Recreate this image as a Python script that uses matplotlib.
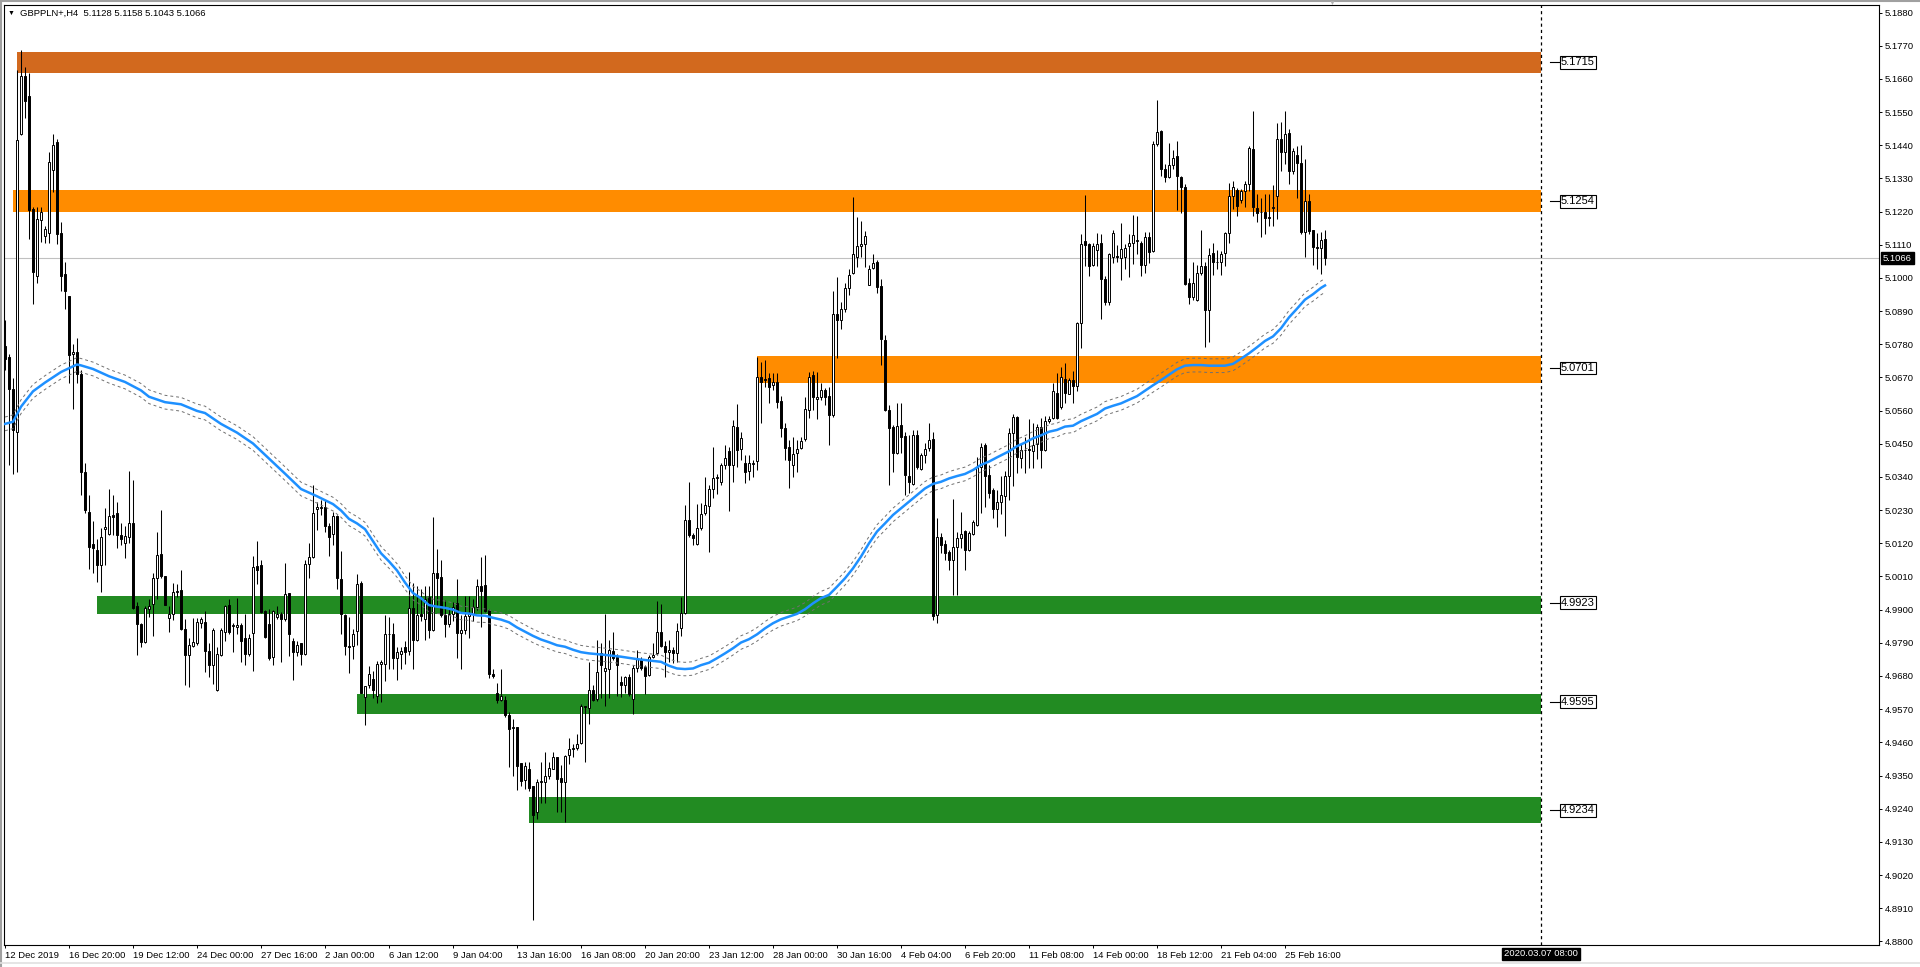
import numpy as np
import matplotlib
matplotlib.use("Agg")
import matplotlib.pyplot as plt
from matplotlib.patches import Rectangle
from matplotlib.lines import Line2D

plt.rcParams['font.family'] = ['Liberation Sans', 'DejaVu Sans']

# header
symbol = "GBPPLN+,H4"
last_ohlc = ["5.1128", "5.1158", "5.1043", "5.1066"]

# H4 candles, 12 Dec 2019 -> 27 Feb 2020
opens = [
    5.0775, 5.0739, 5.0631, 5.0488, 5.1476, 5.1668, 5.1602, 5.1228, 5.1005, 5.1192,
    5.1139, 5.1149, 5.1358, 5.1450, 5.1148, 5.1012, 5.0941, 5.0748, 5.0754, 5.0682,
    5.0357, 5.0225, 5.0118, 5.0099, 5.0049, 5.0167, 5.0152, 5.0213, 5.0219, 5.0149,
    5.0121, 5.0142, 5.0186, 4.9912, 4.9851, 4.9793, 4.9902, 4.9919, 5.0006, 5.0085,
    5.0013, 4.9873, 4.9884, 4.9960, 4.9966, 4.9836, 4.9750, 4.9779, 4.9790, 4.9855,
    4.9859, 4.9764, 4.9718, 4.9632, 4.9750, 4.9826, 4.9915, 4.9845, 4.9842, 4.9848,
    4.9805, 4.9754, 4.9822, 5.0046, 5.0049, 4.9894, 4.9851, 4.9744, 4.9877, 4.9884,
    4.9869, 4.9955, 4.9797, 4.9761, 4.9790, 4.9754, 5.0053, 5.0075, 5.0233, 5.0236,
    5.0239, 5.0178, 5.0152, 5.0210, 5.0003, 4.9881, 4.9781, 4.9778, 4.9830, 4.9987,
    4.9611, 4.9649, 4.9670, 4.9613, 4.9721, 4.9721, 4.9818, 4.9820, 4.9741, 4.9753,
    4.9775, 4.9764, 4.9904, 4.9799, 4.9885, 4.9869, 4.9942, 4.9832, 5.0020, 5.0007,
    4.9881, 4.9853, 4.9887, 4.9921, 4.9822, 4.9833, 4.9878, 4.9887, 4.9910, 4.9978,
    4.9981, 4.9898, 4.9687, 4.9622, 4.9601, 4.9599, 4.9550, 4.9508, 4.9510, 4.9390,
    4.9336, 4.9373, 4.9314, 4.9230, 4.9330, 4.9327, 4.9348, 4.9373, 4.9410, 4.9341,
    4.9327, 4.9419, 4.9439, 4.9442, 4.9459, 4.9579, 4.9573, 4.9632, 4.9604, 4.9755,
    4.9695, 4.9702, 4.9763, 4.9744, 4.9659, 4.9650, 4.9676, 4.9604, 4.9707, 4.9736,
    4.9710, 4.9684, 4.9744, 4.9756, 4.9827, 4.9778, 4.9761, 4.9766, 4.9757, 4.9838,
    4.9888, 5.0197, 5.0148, 5.0118, 5.0170, 5.0219, 5.0244, 5.0299, 5.0336, 5.0324,
    5.0380, 5.0426, 5.0380, 5.0507, 5.0432, 5.0387, 5.0361, 5.0383, 5.0394, 5.0672,
    5.0664, 5.0667, 5.0645, 5.0656, 5.0593, 5.0504, 5.0438, 5.0380, 5.0418, 5.0435,
    5.0465, 5.0562, 5.0678, 5.0597, 5.0606, 5.0630, 5.0608, 5.0545, 5.0882, 5.0860,
    5.0896, 5.0965, 5.1017, 5.1070, 5.1106, 5.1112, 5.0978, 5.1032, 5.1054, 5.0973,
    5.0794, 5.0562, 5.0507, 5.0420, 5.0512, 5.0476, 5.0343, 5.0317, 5.0479, 5.0365,
    5.0413, 5.0435, 5.0465, 4.9882, 5.0140, 5.0118, 5.0092, 5.0065, 5.0109, 5.0136,
    5.0162, 5.0098, 5.0151, 5.0181, 5.0372, 5.0446, 5.0346, 5.0297, 5.0233, 5.0256,
    5.0277, 5.0342, 5.0486, 5.0540, 5.0403, 5.0428, 5.0433, 5.0427, 5.0450, 5.0505,
    5.0430, 5.0525, 5.0537, 5.0620, 5.0573, 5.0664, 5.0616, 5.0661, 5.0643, 5.0851,
    5.1121, 5.1111, 5.1042, 5.1093, 5.1117, 5.0995, 5.0919, 5.1070, 5.1072, 5.1066,
    5.1070, 5.1105, 5.1117, 5.1121, 5.1117, 5.1043, 5.1137, 5.1088, 5.1443, 5.1488,
    5.1362, 5.1334, 5.1376, 5.1405, 5.1334, 5.1303, 5.0983, 5.0936, 5.0928, 5.1017,
    5.1040, 5.0892, 5.1082, 5.1054, 5.1052, 5.1082, 5.1149, 5.1271, 5.1291, 5.1259,
    5.1287, 5.1310, 5.1427, 5.1232, 5.1220, 5.1218, 5.1202, 5.1233, 5.1271, 5.1461,
    5.1417, 5.1481, 5.1354, 5.1407, 5.1381, 5.1153, 5.1254, 5.1159, 5.1102, 5.1099,
    5.1128]
highs = [
    5.0861, 5.0747, 5.0667, 5.1688, 5.1757, 5.1700, 5.1681, 5.1235, 5.1235, 5.1235,
    5.1171, 5.1418, 5.1476, 5.1461, 5.1185, 5.1053, 5.0941, 5.0782, 5.0800, 5.0696,
    5.0387, 5.0279, 5.0193, 5.0135, 5.0171, 5.0236, 5.0301, 5.0279, 5.0257, 5.0186,
    5.0178, 5.0361, 5.0329, 4.9927, 4.9855, 4.9912, 4.9934, 5.0020, 5.0159, 5.0229,
    5.0013, 4.9912, 4.9989, 4.9984, 5.0032, 4.9869, 4.9805, 4.9872, 4.9872, 4.9877,
    4.9894, 4.9790, 4.9840, 4.9776, 4.9840, 4.9915, 4.9934, 4.9855, 4.9938, 4.9855,
    4.9884, 4.9819, 5.0078, 5.0128, 5.0063, 4.9898, 4.9901, 4.9898, 4.9912, 4.9891,
    5.0056, 4.9955, 4.9805, 4.9797, 4.9790, 5.0063, 5.0121, 5.0315, 5.0257, 5.0265,
    5.0265, 5.0186, 5.0225, 5.0214, 5.0096, 4.9885, 4.9875, 4.9836, 5.0018, 4.9995,
    4.9647, 4.9713, 4.9698, 4.9730, 4.9733, 4.9881, 4.9875, 4.9855, 4.9775, 4.9775,
    4.9795, 5.0024, 4.9987, 4.9978, 4.9969, 4.9978, 4.9978, 5.0207, 5.0100, 5.0064,
    4.9933, 4.9910, 4.9927, 5.0001, 4.9881, 4.9944, 4.9944, 4.9935, 5.0001, 5.0075,
    5.0081, 4.9901, 4.9702, 4.9656, 4.9704, 4.9613, 4.9561, 4.9539, 4.9510, 4.9390,
    4.9396, 4.9396, 4.9316, 4.9339, 4.9396, 4.9428, 4.9396, 4.9428, 4.9413, 4.9385,
    4.9419, 4.9473, 4.9453, 4.9489, 4.9588, 4.9581, 4.9725, 4.9649, 4.9798, 4.9790,
    4.9887, 4.9798, 4.9827, 4.9752, 4.9681, 4.9681, 4.9687, 4.9716, 4.9767, 4.9744,
    4.9716, 4.9750, 4.9790, 4.9930, 4.9919, 4.9795, 4.9799, 4.9777, 4.9855, 4.9943,
    5.0247, 5.0324, 5.0153, 5.0249, 5.0252, 5.0339, 5.0313, 5.0440, 5.0350, 5.0385,
    5.0446, 5.0440, 5.0529, 5.0582, 5.0490, 5.0413, 5.0413, 5.0396, 5.0737, 5.0722,
    5.0728, 5.0684, 5.0684, 5.0684, 5.0608, 5.0518, 5.0462, 5.0473, 5.0462, 5.0473,
    5.0604, 5.0689, 5.0691, 5.0689, 5.0650, 5.0634, 5.0639, 5.0958, 5.1004, 5.0921,
    5.0982, 5.1028, 5.1269, 5.1203, 5.1190, 5.1156, 5.1043, 5.1079, 5.1059, 5.0998,
    5.0810, 5.0578, 5.0512, 5.0584, 5.0584, 5.0490, 5.0479, 5.0496, 5.0496, 5.0421,
    5.0454, 5.0520, 5.0490, 5.0203, 5.0153, 5.0131, 5.0098, 5.0266, 5.0159, 5.0225,
    5.0164, 5.0162, 5.0197, 5.0407, 5.0451, 5.0454, 5.0380, 5.0302, 5.0297, 5.0342,
    5.0359, 5.0502, 5.0549, 5.0543, 5.0448, 5.0472, 5.0531, 5.0519, 5.0517, 5.0537,
    5.0543, 5.0543, 5.0652, 5.0685, 5.0703, 5.0718, 5.0667, 5.0691, 5.0853, 5.1147,
    5.1275, 5.1117, 5.1117, 5.1149, 5.1147, 5.1007, 5.1082, 5.1159, 5.1109, 5.1182,
    5.1114, 5.1147, 5.1208, 5.1206, 5.1123, 5.1153, 5.1153, 5.1455, 5.1591, 5.1492,
    5.1378, 5.1449, 5.1425, 5.1455, 5.1339, 5.1310, 5.0999, 5.1052, 5.1043, 5.1159,
    5.1052, 5.1100, 5.1117, 5.1093, 5.1088, 5.1153, 5.1315, 5.1322, 5.1298, 5.1295,
    5.1322, 5.1437, 5.1552, 5.1279, 5.1265, 5.1277, 5.1279, 5.1307, 5.1514, 5.1516,
    5.1552, 5.1493, 5.1431, 5.1437, 5.1440, 5.1393, 5.1279, 5.1159, 5.1149, 5.1153,
    5.1158]
lows = [
    5.0696, 5.0380, 5.0351, 5.0358, 5.1473, 5.1530, 5.1128, 5.0912, 5.0984, 5.1120,
    5.1116, 5.1116, 5.1286, 5.1113, 5.0958, 5.0897, 5.0653, 5.0567, 5.0653, 5.0279,
    5.0222, 5.0035, 5.0020, 4.9991, 4.9960, 5.0049, 5.0149, 5.0149, 5.0106, 5.0113,
    5.0071, 5.0121, 4.9902, 4.9750, 4.9776, 4.9790, 4.9877, 4.9811, 4.9934, 5.0006,
    4.9915, 4.9826, 4.9865, 4.9941, 4.9833, 4.9649, 4.9643, 4.9776, 4.9783, 4.9840,
    4.9692, 4.9678, 4.9653, 4.9629, 4.9747, 4.9797, 4.9819, 4.9761, 4.9819, 4.9725,
    4.9718, 4.9747, 4.9696, 4.9984, 4.9888, 4.9805, 4.9733, 4.9718, 4.9869, 4.9725,
    4.9862, 4.9747, 4.9668, 4.9747, 4.9718, 4.9750, 5.0006, 5.0071, 5.0164, 5.0214,
    5.0157, 5.0078, 5.0113, 4.9970, 4.9818, 4.9748, 4.9690, 4.9738, 4.9784, 4.9622,
    4.9516, 4.9641, 4.9606, 4.9590, 4.9593, 4.9664, 4.9704, 4.9704, 4.9667, 4.9704,
    4.9721, 4.9748, 4.9702, 4.9796, 4.9864, 4.9801, 4.9807, 4.9828, 4.9910, 4.9875,
    4.9809, 4.9841, 4.9864, 4.9741, 4.9704, 4.9818, 4.9805, 4.9864, 4.9898, 4.9841,
    4.9893, 4.9672, 4.9672, 4.9592, 4.9596, 4.9544, 4.9379, 4.9350, 4.9302, 4.9316,
    4.9305, 4.9299, 4.8870, 4.9207, 4.9259, 4.9259, 4.9339, 4.9371, 4.9230, 4.9230,
    4.9196, 4.9387, 4.9410, 4.9436, 4.9453, 4.9396, 4.9522, 4.9596, 4.9596, 4.9607,
    4.9581, 4.9607, 4.9733, 4.9613, 4.9610, 4.9624, 4.9615, 4.9554, 4.9693, 4.9699,
    4.9619, 4.9681, 4.9739, 4.9750, 4.9775, 4.9678, 4.9728, 4.9724, 4.9728, 4.9811,
    4.9886, 5.0142, 5.0114, 5.0114, 5.0164, 5.0214, 5.0092, 5.0269, 5.0283, 5.0313,
    5.0365, 5.0228, 5.0324, 5.0374, 5.0396, 5.0319, 5.0330, 5.0341, 5.0363, 5.0518,
    5.0639, 5.0586, 5.0628, 5.0568, 5.0471, 5.0396, 5.0302, 5.0341, 5.0357, 5.0432,
    5.0460, 5.0534, 5.0562, 5.0531, 5.0595, 5.0579, 5.0446, 5.0540, 5.0733, 5.0829,
    5.0888, 5.0943, 5.1013, 5.1037, 5.1070, 5.1037, 5.0976, 5.1028, 5.0951, 5.0711,
    5.0560, 5.0313, 5.0357, 5.0416, 5.0418, 5.0280, 5.0286, 5.0313, 5.0365, 5.0363,
    5.0385, 5.0427, 4.9866, 4.9855, 5.0087, 5.0065, 5.0032, 4.9949, 4.9949, 5.0103,
    5.0032, 5.0096, 5.0148, 5.0177, 5.0219, 5.0241, 5.0269, 5.0203, 5.0173, 5.0217,
    5.0143, 5.0265, 5.0309, 5.0353, 5.0371, 5.0353, 5.0371, 5.0371, 5.0401, 5.0371,
    5.0425, 5.0519, 5.0533, 5.0531, 5.0567, 5.0584, 5.0614, 5.0584, 5.0626, 5.0766,
    5.1040, 5.1007, 5.1038, 5.1040, 5.0863, 5.0910, 5.0910, 5.1050, 5.1052, 5.0993,
    5.1028, 5.1002, 5.1046, 5.1078, 5.1007, 5.1016, 5.1050, 5.1085, 5.1437, 5.1339,
    5.1318, 5.1330, 5.1360, 5.1224, 5.1215, 5.0975, 5.0912, 5.0928, 5.0924, 5.1011,
    5.0770, 5.0786, 5.1011, 5.1028, 5.1011, 5.1040, 5.1117, 5.1230, 5.1206, 5.1247,
    5.1236, 5.1289, 5.1206, 5.1185, 5.1135, 5.1144, 5.1173, 5.1173, 5.1194, 5.1354,
    5.1378, 5.1313, 5.1346, 5.1265, 5.1144, 5.1070, 5.1144, 5.1043, 5.1031, 5.1014,
    5.1043]
closes = [
    5.0732, 5.0631, 5.0495, 5.1458, 5.1671, 5.1588, 5.1225, 5.1020, 5.1197, 5.1217,
    5.1162, 5.1384, 5.1441, 5.1145, 5.1008, 5.0955, 5.0746, 5.0755, 5.0682, 5.0358,
    5.0229, 5.0109, 5.0103, 5.0049, 5.0142, 5.0174, 5.0210, 5.0207, 5.0149, 5.0135,
    5.0145, 5.0186, 4.9905, 4.9851, 4.9793, 4.9905, 4.9912, 5.0006, 5.0082, 5.0013,
    4.9917, 4.9884, 4.9960, 4.9963, 4.9836, 4.9750, 4.9783, 4.9793, 4.9859, 4.9869,
    4.9764, 4.9718, 4.9833, 4.9754, 4.9833, 4.9912, 4.9826, 4.9848, 4.9848, 4.9797,
    4.9754, 4.9805, 5.0042, 5.0032, 4.9891, 4.9808, 4.9740, 4.9894, 4.9884, 4.9869,
    4.9951, 4.9819, 4.9761, 4.9783, 4.9754, 5.0053, 5.0075, 5.0222, 5.0239, 5.0240,
    5.0178, 5.0142, 5.0210, 5.0006, 4.9885, 4.9781, 4.9775, 4.9818, 4.9984, 4.9624,
    4.9647, 4.9685, 4.9632, 4.9721, 4.9725, 4.9818, 4.9820, 4.9741, 4.9758, 4.9764,
    4.9761, 4.9907, 4.9799, 4.9881, 4.9878, 4.9935, 4.9832, 5.0020, 5.0005, 4.9881,
    4.9853, 4.9887, 4.9910, 4.9822, 4.9832, 4.9878, 4.9887, 4.9910, 4.9978, 4.9961,
    4.9896, 4.9687, 4.9681, 4.9601, 4.9613, 4.9550, 4.9504, 4.9512, 4.9382, 4.9333,
    4.9382, 4.9310, 4.9219, 4.9327, 4.9333, 4.9350, 4.9375, 4.9410, 4.9339, 4.9327,
    4.9416, 4.9439, 4.9442, 4.9455, 4.9579, 4.9576, 4.9632, 4.9601, 4.9693, 4.9716,
    4.9707, 4.9767, 4.9741, 4.9716, 4.9650, 4.9676, 4.9619, 4.9707, 4.9736, 4.9707,
    4.9681, 4.9744, 4.9750, 4.9827, 4.9778, 4.9761, 4.9766, 4.9755, 4.9830, 4.9890,
    5.0197, 5.0148, 5.0139, 5.0170, 5.0217, 5.0247, 5.0299, 5.0336, 5.0339, 5.0380,
    5.0402, 5.0380, 5.0509, 5.0429, 5.0468, 5.0357, 5.0385, 5.0385, 5.0672, 5.0656,
    5.0661, 5.0639, 5.0656, 5.0590, 5.0501, 5.0435, 5.0396, 5.0416, 5.0432, 5.0460,
    5.0564, 5.0672, 5.0606, 5.0604, 5.0630, 5.0606, 5.0545, 5.0880, 5.0860, 5.0896,
    5.0965, 5.1009, 5.1079, 5.1106, 5.1112, 5.1139, 5.1028, 5.1050, 5.0971, 5.0799,
    5.0562, 5.0504, 5.0418, 5.0509, 5.0474, 5.0346, 5.0324, 5.0479, 5.0372, 5.0413,
    5.0432, 5.0462, 4.9879, 5.0140, 5.0114, 5.0087, 5.0065, 5.0107, 5.0136, 5.0151,
    5.0098, 5.0153, 5.0192, 5.0374, 5.0438, 5.0343, 5.0286, 5.0233, 5.0258, 5.0280,
    5.0344, 5.0486, 5.0540, 5.0407, 5.0430, 5.0430, 5.0428, 5.0446, 5.0507, 5.0430,
    5.0525, 5.0533, 5.0624, 5.0537, 5.0671, 5.0620, 5.0661, 5.0643, 5.0851, 5.1114,
    5.1109, 5.1040, 5.1105, 5.1111, 5.0995, 5.0919, 5.1078, 5.1149, 5.1070, 5.1097,
    5.1099, 5.1117, 5.1141, 5.1125, 5.1043, 5.1137, 5.1085, 5.1445, 5.1484, 5.1362,
    5.1336, 5.1376, 5.1398, 5.1339, 5.1303, 5.0981, 5.0936, 5.0983, 5.1017, 5.1038,
    5.0892, 5.1076, 5.1052, 5.1052, 5.1078, 5.1149, 5.1271, 5.1301, 5.1239, 5.1287,
    5.1310, 5.1431, 5.1236, 5.1215, 5.1218, 5.1200, 5.1200, 5.1235, 5.1461, 5.1417,
    5.1476, 5.1354, 5.1421, 5.1381, 5.1153, 5.1256, 5.1156, 5.1102, 5.1099, 5.1125,
    5.1066]

# moving average (read at sample bars) + envelope deviation
ma_bars = [0, 2, 4, 7, 10, 14, 18, 19, 22, 26, 30, 34, 36, 40, 44, 48, 50, 54, 58, 62,
           66, 70, 74, 78, 82, 84, 86, 88, 90, 92, 94, 96, 98, 100, 102, 104, 106, 108, 110, 112,
           114, 116, 118, 120, 122, 124, 126, 128, 130, 132, 134, 136, 138, 140, 142, 144, 146, 150, 154, 158,
           162, 164, 166, 168, 170, 172, 174, 176, 178, 180, 182, 184, 186, 188, 190, 192, 194, 196, 198, 200,
           202, 204, 206, 208, 210, 212, 214, 216, 218, 220, 222, 224, 226, 228, 230, 232, 234, 236, 238, 240,
           242, 244, 246, 248, 251, 253, 255, 257, 259, 261, 263, 265, 267, 269, 271, 273, 275, 277, 279, 281,
           283, 285, 287, 289, 291, 293, 295, 297, 299, 301, 303, 305, 307, 309, 311, 313, 315, 317, 319, 321,
           323, 325, 327, 329, 330]
ma_vals = [5.0516, 5.0523, 5.0573, 5.0624, 5.0653, 5.0688, 5.0713, 5.0710, 5.0698, 5.0674,
           5.0655, 5.0627, 5.0606, 5.0588, 5.0581, 5.0559, 5.0552, 5.0516, 5.0487, 5.0451,
           5.0401, 5.0351, 5.0300, 5.0276, 5.0250, 5.0229, 5.0201, 5.0186, 5.0167, 5.0127,
           5.0087, 5.0060, 5.0030, 4.9990, 4.9955, 4.9938, 4.9915, 4.9910, 4.9906, 4.9900,
           4.9889, 4.9887, 4.9881, 4.9880, 4.9873, 4.9867, 4.9858, 4.9841, 4.9827, 4.9813,
           4.9801, 4.9792, 4.9782, 4.9777, 4.9767, 4.9759, 4.9755, 4.9750, 4.9744, 4.9736,
           4.9730, 4.9727, 4.9714, 4.9705, 4.9703, 4.9705, 4.9716, 4.9724, 4.9739, 4.9755,
           4.9772, 4.9791, 4.9802, 4.9818, 4.9838, 4.9855, 4.9868, 4.9877, 4.9886, 4.9901,
           4.9921, 4.9938, 4.9949, 4.9976, 5.0004, 5.0037, 5.0076, 5.0120, 5.0159, 5.0186,
           5.0214, 5.0236, 5.0258, 5.0280, 5.0302, 5.0317, 5.0324, 5.0335, 5.0343, 5.0350,
           5.0363, 5.0380, 5.0391, 5.0405, 5.0425, 5.0442, 5.0454, 5.0468, 5.0478, 5.0490,
           5.0496, 5.0507, 5.0510, 5.0525, 5.0537, 5.0549, 5.0567, 5.0576, 5.0584, 5.0596,
           5.0608, 5.0626, 5.0644, 5.0661, 5.0679, 5.0697, 5.0709, 5.0711, 5.0711, 5.0709,
           5.0709, 5.0709, 5.0715, 5.0732, 5.0750, 5.0770, 5.0791, 5.0806, 5.0833, 5.0869,
           5.0898, 5.0928, 5.0946, 5.0967, 5.0975]
env_dev = 0.00045

# support / resistance zones
zone_top = [5.1749, 5.1291, 5.0742, 4.9945, 4.9620, 4.9279]
zone_bot = [5.1680, 5.1219, 5.0652, 4.9886, 4.9555, 4.9194]
zone_start = [3, 2, 188, 23, 88, 131]
zone_label = ["5.1715", "5.1254", "5.0701", "4.9923", "4.9595", "4.9234"]
zone_color = ["#D2691E", "#FF8C00", "#FF8C00", "#228B22", "#228B22", "#228B22"]

last_price = 5.1066
future_bar = 384
future_label = "2020.03.07 08:00"

time_ticks = [0, 16, 32, 48, 64, 80, 96, 112, 128, 144, 160, 176, 192, 208, 224, 240,
              256, 272, 288, 304, 320]
time_labels = ["12 Dec 2019", "16 Dec 20:00", "19 Dec 12:00", "24 Dec 00:00", "27 Dec 16:00",
               "2 Jan 00:00", "6 Jan 12:00", "9 Jan 04:00", "13 Jan 16:00", "16 Jan 08:00",
               "20 Jan 20:00", "23 Jan 12:00", "28 Jan 00:00", "30 Jan 16:00", "4 Feb 04:00",
               "6 Feb 20:00", "11 Feb 08:00", "14 Feb 00:00", "18 Feb 12:00", "21 Feb 04:00",
               "25 Feb 16:00"]
price_ticks = [5.1880, 5.1770, 5.1660, 5.1550, 5.1440, 5.1330, 5.1220, 5.1110, 5.1000, 5.0890,
               5.0780, 5.0670, 5.0560, 5.0450, 5.0340, 5.0230, 5.0120, 5.0010, 4.9900, 4.9790,
               4.9680, 4.9570, 4.9460, 4.9350, 4.9240, 4.9130, 4.9020, 4.8910, 4.8800]

W, H = 1920, 967
fig = plt.figure(figsize=(W / 100, H / 100), dpi=100)
ax = fig.add_axes([4 / W, 22 / H, 1875 / W, 940.3 / H])
ax.set_xlim(-0.25, 468.5)
ax.set_ylim(4.8788, 5.1906)

# zones
for top, bot, s, col in zip(zone_top, zone_bot, zone_start, zone_color):
    ax.add_patch(Rectangle((s, bot), future_bar - s, top - bot, facecolor=col,
                           edgecolor='none', zorder=1))
for lab in zone_label:
    v = float(lab)
    ax.plot([386.3, 388.8], [v, v], color='black', lw=0.8, zorder=6)
    ax.text(389.0, v, lab, fontsize=8, va='center', ha='left', zorder=6,
            bbox=dict(boxstyle='square,pad=0.12', fc='white', ec='black', lw=0.8))

ax.axhline(last_price, color='#C0C0C0', lw=0.8, zorder=1.5)
ax.axvline(future_bar, color='black', lw=0.9, ls=(0, (2.5, 2.5)), zorder=6)

# candles
x = np.arange(len(closes))
o = np.array(opens)
hi = np.array(highs)
lo = np.array(lows)
c = np.array(closes)
up = c >= o
ax.vlines(x, lo, hi, color='black', lw=0.75, zorder=3)
ax.bar(x[up], (c - o)[up], bottom=o[up], width=0.72, color='white',
       edgecolor='black', lw=0.7, zorder=4)
ax.bar(x[~up], (o - c)[~up], bottom=c[~up], width=0.72, color='black',
       edgecolor='black', lw=0.7, zorder=4)

# MA + envelopes
ma = np.array(ma_vals)
ax.plot(ma_bars, ma * (1 + env_dev), color='#707070', lw=0.7, ls=(0, (3, 3)), zorder=5)
ax.plot(ma_bars, ma * (1 - env_dev), color='#707070', lw=0.7, ls=(0, (3, 3)), zorder=5)
ax.plot(ma_bars, ma, color='#1E90FF', lw=1.8, zorder=5)

# axes styling
for sp in ax.spines.values():
    sp.set_linewidth(0.8)
    sp.set_color('black')
ax.yaxis.tick_right()
ax.set_yticks(price_ticks)
ax.set_yticklabels(["%.4f" % p for p in price_ticks])
ax.tick_params(axis='y', direction='out', length=2.5, width=0.7, pad=1.5, labelsize=6.8)
ax.set_xticks(time_ticks)
ax.set_xticklabels(time_labels)
for t in ax.get_xticklabels():
    t.set_horizontalalignment('left')
ax.tick_params(axis='x', direction='out', length=2.5, width=0.7, pad=1.5, labelsize=6.8)

# price label on the axis
ax.text(1.0022, last_price, "%.4f" % last_price, transform=ax.get_yaxis_transform(),
        color='white', fontsize=6.8, va='center', ha='left', zorder=7,
        bbox=dict(boxstyle='square,pad=0.2', fc='black', ec='black'))
ax.text(future_bar, -0.0095, future_label, transform=ax.get_xaxis_transform(),
        color='white', fontsize=6.8, va='center', ha='center', zorder=7,
        bbox=dict(boxstyle='square,pad=0.2', fc='black', ec='black'))

# header
fig.text(8 / W, 1 - 13 / H, "\u25BC", fontsize=5, va='center', ha='left')
fig.text(20 / W, 1 - 13 / H, symbol + "  " + " ".join(last_ohlc), fontsize=6.8,
         va='center', ha='left')
fig.text(1332 / W, 1 - 3 / H, "\u25BC", fontsize=5, color='#B0B0B0', va='center', ha='center')

# window frame
fig.add_artist(Line2D([0.5 / W, 0.5 / W], [0, 1], color='#A0A0A0', lw=1.5))
fig.add_artist(Line2D([0, 1], [1 - 0.5 / H, 1 - 0.5 / H], color='#A0A0A0', lw=1.5))
fig.add_artist(Line2D([0, 1], [4 / H, 4 / H], color='#E0E0E0', lw=1.2))

fig.savefig("out.png", dpi=100)
